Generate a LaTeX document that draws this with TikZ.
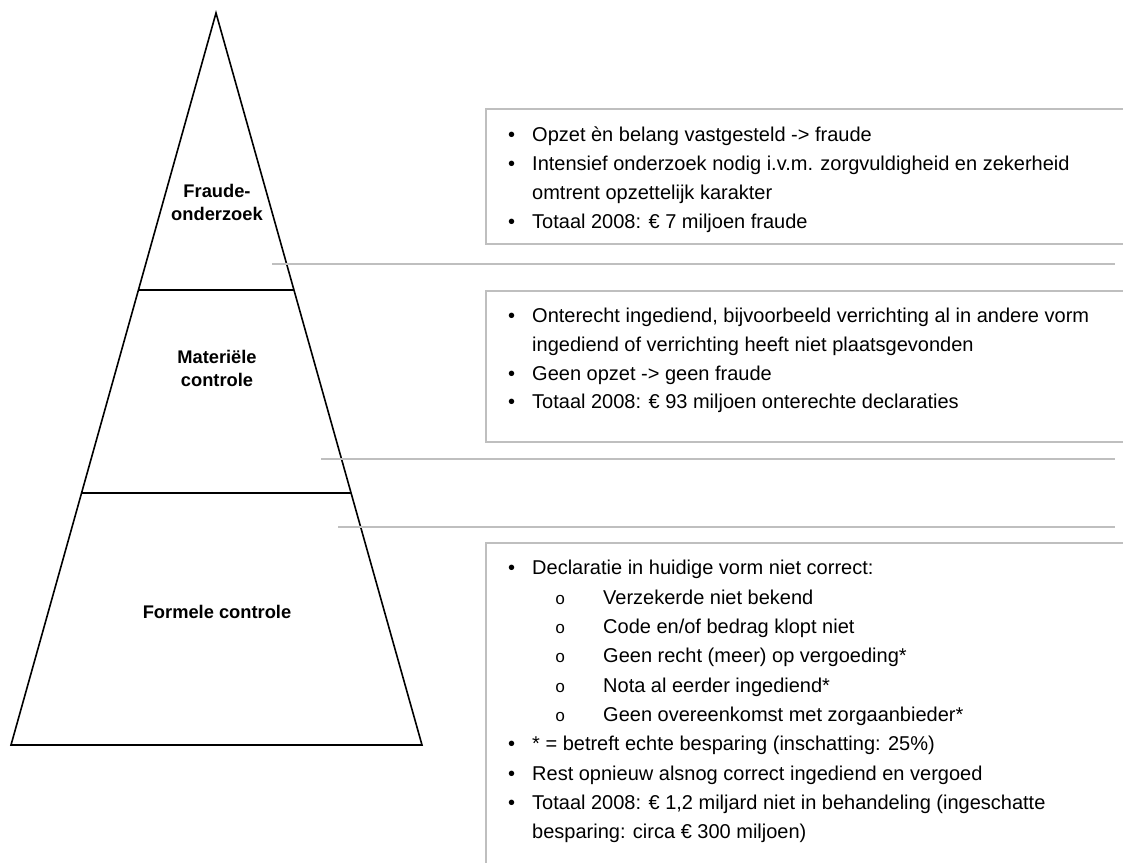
\documentclass[tikz,border=0pt]{standalone}
\usepackage{fontspec}
\setmainfont{Liberation Sans}
\setmonofont{Liberation Mono}
\tikzset{
  x=1pt, y=-1pt,
  pyr/.style={draw=black, line width=1.6pt, line join=miter},
  boxline/.style={draw=black!25, line width=1.6pt},
  grayline/.style={draw=black!25, line width=1.6pt},
  txt/.style={anchor=mid west, inner sep=0pt, font=\fontsize{20}{24}\selectfont},
  bul/.style={anchor=mid west, inner sep=0pt, font=\fontsize{20}{24}\selectfont},
  sub/.style={anchor=mid west, inner sep=0pt, font=\ttfamily\fontsize{17}{20}\selectfont},
  lbl/.style={anchor=mid, inner sep=0pt, font=\bfseries\fontsize{18.3}{23}\selectfont}
}
\begin{document}
\begin{tikzpicture}
\useasboundingbox[fill=white] (0,0) rectangle (1123,863);
% pyramid
\coordinate (apex) at (216,13);
\coordinate (bl) at (11,745);
\coordinate (br) at (422,745);
\draw[pyr] (apex) -- (br) -- (bl) -- cycle;
\draw[pyr] (138.4,290) -- (294,290);
\draw[pyr] (81.6,493) -- (351,493);
\node[lbl] (l1a) at (217,195) {Fraude-};
\node[lbl] (l1b) at (217,218) {onderzoek};
\node[lbl] (l2a) at (217,361) {Materiële};
\node[lbl] (l2b) at (217,384) {controle};
\node[lbl] (l3) at (217,616) {Formele controle};
% gray separator lines
\draw[grayline] (272,264) -- (1115,264);
\draw[grayline] (321,459) -- (1115,459);
\draw[grayline] (338,527) -- (1115,527);
% boxes (open to the right edge)
\draw[boxline] (1123,109) -- (486,109) -- (486,244) -- (1123,244);
\draw[boxline] (1123,291) -- (486,291) -- (486,442) -- (1123,442);
\draw[boxline] (1123,543) -- (486,543) -- (486,863);
% box 1 text
\node[bul] (b1a) at (508,139) {•};
\node[txt] (t1a) at (532,139) {Opzet èn belang vastgesteld -> fraude};
\node[bul] (b1b) at (508,168) {•};
\node[txt] (t1b) at (532,168) {Intensief onderzoek nodig i.v.m. zorgvuldigheid en zekerheid};
\node[txt] (t1c) at (532,197) {omtrent opzettelijk karakter};
\node[bul] (b1d) at (508,226) {•};
\node[txt] (t1d) at (532,226) {Totaal 2008: € 7 miljoen fraude};
% box 2 text
\node[bul] (b2a) at (508,320) {•};
\node[txt] (t2a) at (532,320) {Onterecht ingediend, bijvoorbeeld verrichting al in andere vorm};
\node[txt] (t2b) at (532,349) {ingediend of verrichting heeft niet plaatsgevonden};
\node[bul] (b2c) at (508,378) {•};
\node[txt] (t2c) at (532,378) {Geen opzet -> geen fraude};
\node[bul] (b2d) at (508,406) {•};
\node[txt] (t2d) at (532,406) {Totaal 2008: € 93 miljoen onterechte declaraties};
% box 3 text
\node[bul] (b3a) at (508,572) {•};
\node[txt] (t3a) at (532,572) {Declaratie in huidige vorm niet correct:};
\node[sub] (s3b) at (555,602) {o};
\node[txt] (t3b) at (603,602) {Verzekerde niet bekend};
\node[sub] (s3c) at (555,631) {o};
\node[txt] (t3c) at (603,631) {Code en/of bedrag klopt niet};
\node[sub] (s3d) at (555,660) {o};
\node[txt] (t3d) at (603,660) {Geen recht (meer) op vergoeding*};
\node[sub] (s3e) at (555,690) {o};
\node[txt] (t3e) at (603,690) {Nota al eerder ingediend*};
\node[sub] (s3f) at (555,719) {o};
\node[txt] (t3f) at (603,719) {Geen overeenkomst met zorgaanbieder*};
\node[bul] (b3g) at (508,748) {•};
\node[txt] (t3g) at (532,748) {* = betreft echte besparing (inschatting: 25\%)};
\node[bul] (b3h) at (508,778) {•};
\node[txt] (t3h) at (532,778) {Rest opnieuw alsnog correct ingediend en vergoed};
\node[bul] (b3i) at (508,807) {•};
\node[txt] (t3i) at (532,807) {Totaal 2008: € 1,2 miljard niet in behandeling (ingeschatte};
\node[txt] (t3j) at (532,836) {besparing: circa € 300 miljoen)};
\end{tikzpicture}
\end{document}
